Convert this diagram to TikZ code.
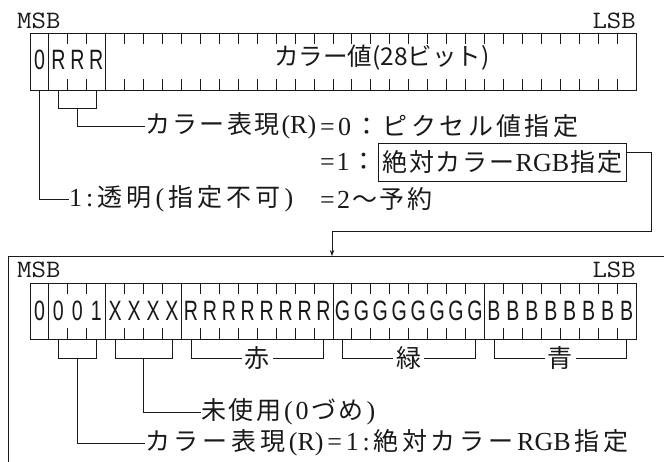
\documentclass[tikz,border=0pt]{standalone}
\usepackage{fontspec}
\usetikzlibrary{arrows.meta}
\newfontfamily\jpfam{Noto Sans CJK JP}
\newfontfamily\serfam{Liberation Serif}
\newfontfamily\sansfam{Liberation Sans}
\makeatletter
\newcommand\spr[2]{\makebox[#1][l]{\spr@a#2\spr@end}}
\def\spr@a#1#2\spr@end{{#1}\if\relax\detokenize{#2}\relax\else\hfill\spr@a#2\spr@end\fi}
\makeatother
\newcommand\zs{\serfam\fontsize{26pt}{30pt}\selectfont}
\newcommand\zEq{{\zs=}}
\newcommand\zZero{{\zs 0}}
\newcommand\zOne{{\zs 1}}
\newcommand\zTwo{{\zs 2}}
\newcommand\zColon{{\zs :}}
\newcommand\zR{{\zs R}}
\newcommand\zPR{{\zs (R)}}
\newcommand\zLP{{\zs (}}
\newcommand\zRP{{\zs )}}
\newcommand\zRGB{{\zs RGB}}
\newcommand\bitc[1]{\scalebox{0.7}[1]{#1}}
\newcommand\msbt[1]{\scalebox{1.12}[1]{#1}}
\definecolor{ink}{gray}{0.1}
\tikzset{
  reg/.style={draw=ink, line width=0.9pt},
  ln/.style={draw=ink, line width=0.9pt},
  lbl/.style={inner sep=0pt, anchor=west, text=ink, font=\jpfam\fontsize{25pt}{29pt}\selectfont},
  clbl/.style={inner sep=0pt, inner xsep=3pt, fill=white, text=ink, font=\jpfam\fontsize{25pt}{29pt}\selectfont},
  bit/.style={inner sep=0pt, text=ink, font=\sansfam\fontsize{28pt}{32pt}\selectfont},
  msb/.style={inner sep=0pt, text=ink, font=\ttfamily\fontsize{25pt}{29pt}\selectfont},
  inbox/.style={draw=ink, line width=0.9pt, inner ysep=0pt, inner xsep=4pt, minimum height=38pt, anchor=west, text=ink, font=\jpfam\fontsize{25pt}{29pt}\selectfont},
  regtxt/.style={inner sep=0pt, text=ink, font=\jpfam\fontsize{24.5pt}{28pt}\selectfont},
}
\begin{document}
\begin{tikzpicture}[x=1pt,y=-1pt]
\useasboundingbox (0,0) rectangle (664,461);
\def\bw{18.9375}
% ---------- top register ----------
\node[msb, anchor=west] (msbT) at (17,21) {\msbt{MSB}};
\node[msb, anchor=east] (lsbT) at (636,21) {\msbt{LSB}};
\draw[reg] (30,33) rectangle (636,90);
\foreach \i in {1,4} \draw[reg] ({30+\i*\bw},33) -- ++(0,57);
\foreach \i in {2,3,5,6,...,31} {
  \draw[reg] ({30+\i*\bw},33) -- ++(0,11);
  \draw[reg] ({30+\i*\bw},90) -- ++(0,-11);
}
\foreach \i/\c in {0/0,1/R,2/R,3/R}
  \node[bit] (t\i) at ({30+(\i+0.5)*\bw},60) {\bitc{\c}};
\node[regtxt] (cv) at (382,58) {カラー値(28ビット)};
% brackets / leaders from top register
\draw[ln] ({30+1.5*\bw},90) -- ({30+1.5*\bw},108) -- ({30+3.5*\bw},108) -- ({30+3.5*\bw},90);
\coordinate (s1) at ({30+2.5*\bw},108);
\coordinate (s0) at ({30+0.5*\bw},90);
% texts
\node[lbl] (r1a) at (145,126) {\spr{171pt}{カラー表現\zPR}};
\node[lbl] (r1b) at (320,126) {\spr{258pt}{\zEq\zZero：ピクセル値指定}};
\node[lbl] (r2a) at (320,162) {\spr{56pt}{\zEq\zOne：}};
\node[inbox] (box) at (378,162) {\spr{240pt}{絶対カラー\zRGB 指定}};
\node[lbl] (r3a) at (69,199) {\spr{224pt}{\zOne\zColon 透明\zLP 指定不可\zRP}};
\node[lbl] (r3b) at (320,199) {\spr{112pt}{\zEq\zTwo～予約}};
\draw[ln] (s1) |- (r1a.west);
\draw[ln] (s0) |- (r3a.west);
% arrow to lower frame
\coordinate (k1) at (651,152);
\coordinate (k2) at (332,231);
\coordinate (fr) at (332,256);
\draw[ln, -{Stealth[length=6pt,width=4.5pt]}] (box.east |- k1) -- (k1) -- (k1 |- k2) -- (k2) -- (fr);
% ---------- lower frame ----------
\draw[ln] (666,256) -- (8,256) -- (8,463);
\node[msb, anchor=west] (msbB) at (17,270) {\msbt{MSB}};
\node[msb, anchor=east] (lsbB) at (636,270) {\msbt{LSB}};
\draw[reg] (30,283) rectangle (636,339);
\foreach \i in {1,4,8,16,24} \draw[reg] ({30+\i*\bw},283) -- ++(0,56);
\foreach \i in {2,3,5,6,7,9,10,...,15,17,18,...,23,25,26,...,31} {
  \draw[reg] ({30+\i*\bw},283) -- ++(0,11);
  \draw[reg] ({30+\i*\bw},339) -- ++(0,-11);
}
\foreach \i/\c in {0/0,1/0,2/0,3/1,4/X,5/X,6/X,7/X,8/R,9/R,10/R,11/R,12/R,13/R,14/R,15/R,16/G,17/G,18/G,19/G,20/G,21/G,22/G,23/G,24/B,25/B,26/B,27/B,28/B,29/B,30/B,31/B}
  \node[bit] (b\i) at ({30+(\i+0.5)*\bw},311) {\bitc{\c}};
% brackets
\foreach \a/\b in {1/3,4/7,8/15,16/23,24/31}
  \draw[ln] ({30+(\a+0.5)*\bw},339) -- ({30+(\a+0.5)*\bw},358) -- ({30+(\b+0.5)*\bw},358) -- ({30+(\b+0.5)*\bw},339);
\node[clbl] (red) at ({30+12*\bw},358) {赤};
\node[clbl] (green) at ({30+20*\bw},358) {緑};
\node[clbl] (blue) at ({30+28*\bw},358) {青};
\coordinate (s2) at ({30+2.5*\bw},358);
\coordinate (s3) at ({30+6*\bw},358);
\node[lbl] (n1) at (201,412) {\spr{174pt}{未使用\zLP\zZero づめ\zRP}};
\node[lbl] (n2) at (145,443) {\spr{483pt}{カラー表現\zPR\zEq\zOne\zColon 絶対カラー\zRGB 指定}};
\draw[ln] (s3) |- (n1.west);
\draw[ln] (s2) |- (n2.west);
\end{tikzpicture}
\end{document}
